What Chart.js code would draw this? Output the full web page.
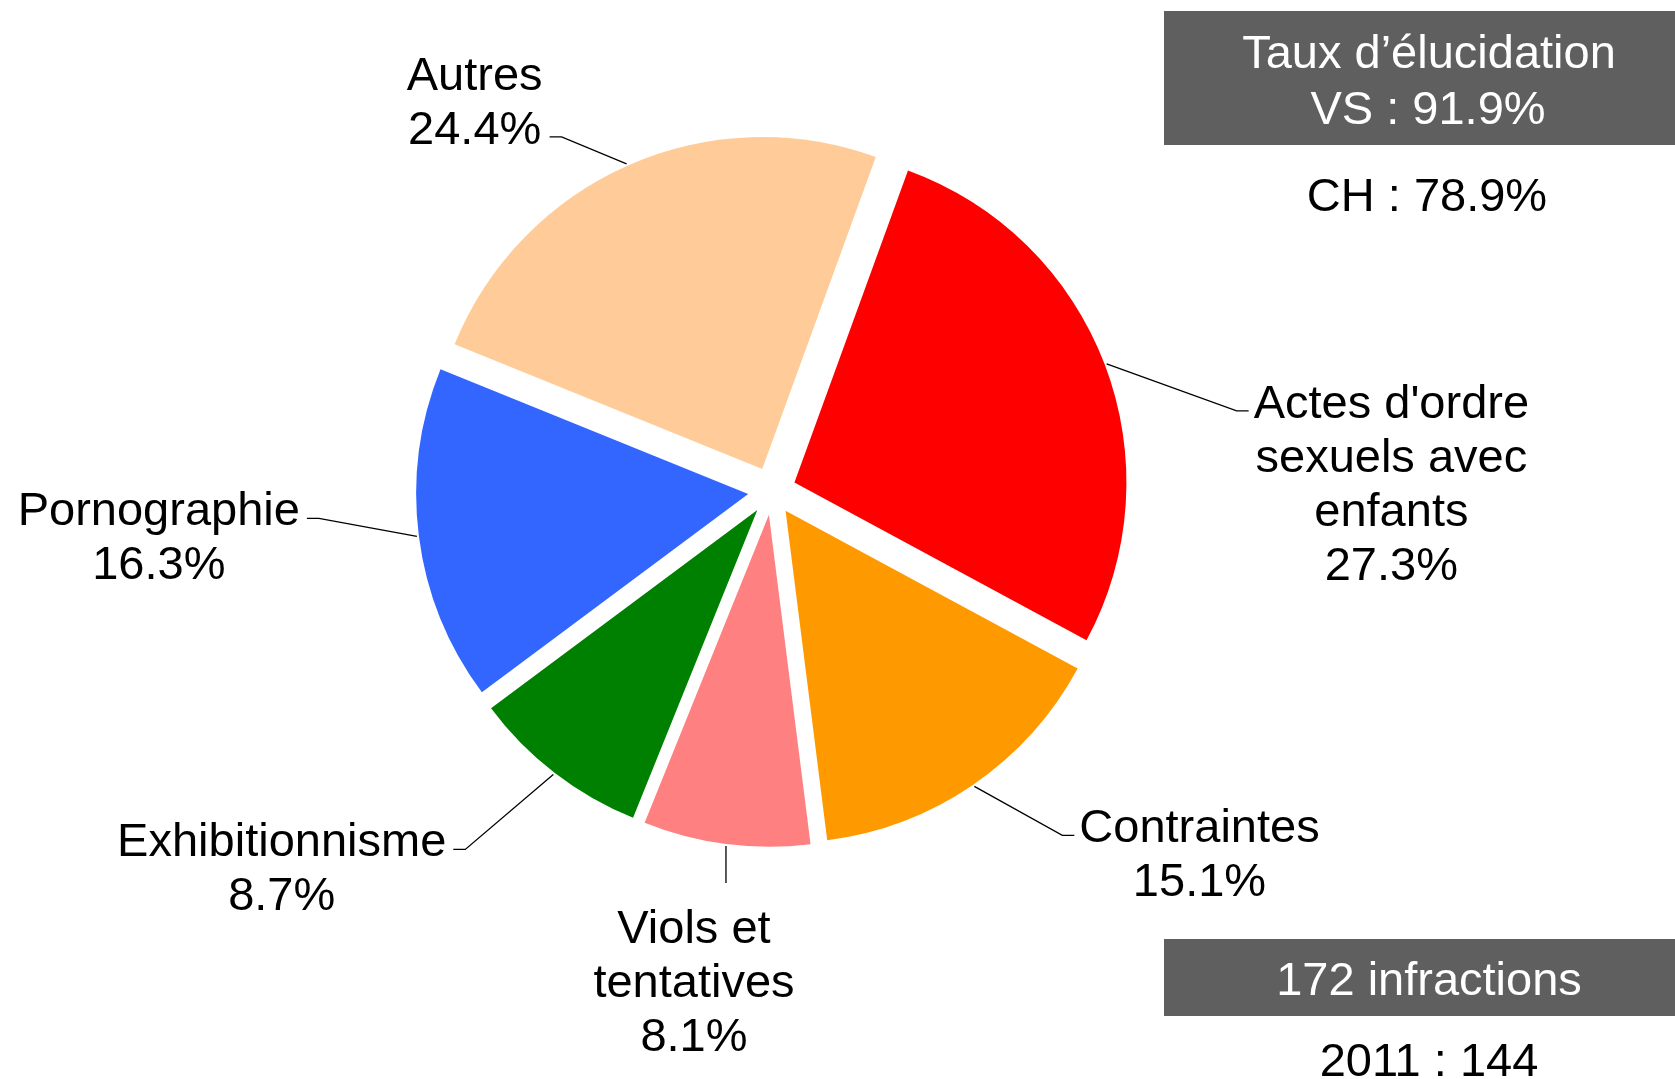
<!DOCTYPE html>
<html>
<head>
<meta charset="utf-8">
<script src="https://cdn.jsdelivr.net/npm/chart.js@4"></script>
<style>
  html, body { margin: 0; padding: 0; background: #fff; }
  #wrap { width: 1675px; height: 1079px; position: relative; }
</style>
</head>
<body>
<div id="wrap"><canvas id="pie-chart"></canvas></div>
<script>
const categories = ["Actes d'ordre\nsexuels avec\nenfants", 'Contraintes', 'Viols et\ntentatives', 'Exhibitionnisme', 'Pornographie', 'Autres'];
const shares = [27.3, 15.1, 8.1, 8.7, 16.3, 24.4];
const sliceColors = ['#ff0000', '#ff9900', '#ff8080', '#008000', '#3366ff', '#ffcc99'];
const clearanceVS = 91.9;
const clearanceCH = 78.9;
const offences = 172;
const prevYear = 2011;
const prevOffences = 144;

const FONT = '47px "Liberation Sans", Arial, sans-serif';
const SHIFT = 24;

// leader lines: elbow relative to the slice edge, tick towards the text, text row on the tick
const leaders = [
    {dx: 130, dy: 47, tick: 12, row: 0},
    {dx: 88, dy: 49, tick: 12, row: 0},
    {dx: 0, dy: 37, tick: 0, row: 0},
    {dx: -88, dy: 75, tick: -12, row: 0},
    {dx: -98, dy: -18, tick: -12, row: 0},
    {dx: -65, dy: -27, tick: -12, row: 1}
];

// pull every slice out from the centre
const explode = {
    id: 'explode',
    beforeDatasetsDraw(chart) {
        chart.getDatasetMeta(0).data.forEach(arc => {
            if (arc._exploded) return;
            const draw = arc.draw.bind(arc);
            arc.draw = (ctx, area) => {
                const mid = (arc.startAngle + arc.endAngle) / 2;
                ctx.save();
                ctx.translate(Math.cos(mid) * SHIFT, Math.sin(mid) * SHIFT);
                draw(ctx, area);
                ctx.restore();
            };
            arc._exploded = true;
        });
    }
};

const sliceLabels = {
    id: 'sliceLabels',
    afterDatasetsDraw(chart) {
        const ctx = chart.ctx;
        ctx.save();
        ctx.font = FONT;
        ctx.fillStyle = '#000';
        ctx.strokeStyle = '#000';
        ctx.lineWidth = 1.3;
        chart.getDatasetMeta(0).data.forEach((arc, i) => {
            const mid = (arc.startAngle + arc.endAngle) / 2;
            const r = arc.outerRadius + SHIFT + 2;
            const sx = arc.x + Math.cos(mid) * r;
            const sy = arc.y + Math.sin(mid) * r;
            const l = leaders[i];
            const ex = sx + l.dx, ey = sy + l.dy;
            const tx = ex + l.tick;
            ctx.beginPath();
            ctx.moveTo(sx, sy);
            ctx.lineTo(ex, ey);
            ctx.lineTo(tx, ey);
            ctx.stroke();

            const lines = categories[i].split('\n').concat(shares[i].toFixed(1) + '%');
            const w = Math.max(...lines.map(s => ctx.measureText(s).width));
            let cx, y0;
            if (l.tick > 0) { cx = tx + 5 + w / 2; y0 = ey + 7; }
            else if (l.tick < 0) { cx = tx - 7 - w / 2; y0 = ey + 7; }
            else { cx = ex - 32; y0 = ey + 60; }
            ctx.textAlign = 'center';
            ctx.textBaseline = 'alphabetic';
            lines.forEach((s, k) => ctx.fillText(s, cx, y0 + (k - l.row) * 54));
        });
        ctx.restore();
    }
};

const infoBoxes = {
    id: 'infoBoxes',
    afterDraw(chart) {
        const ctx = chart.ctx;
        ctx.save();
        ctx.font = FONT;
        ctx.textAlign = 'center';
        ctx.fillStyle = '#5f5f5f';
        ctx.fillRect(1164, 11, 511, 134);
        ctx.fillRect(1164, 939, 511, 77);
        ctx.fillStyle = '#fff';
        ctx.fillText('Taux d\u2019élucidation', 1429, 68);
        ctx.fillText('VS : ' + clearanceVS.toFixed(1) + '%', 1428, 124);
        ctx.fillText(offences + ' infractions', 1429, 995);
        ctx.fillStyle = '#000';
        ctx.fillText('CH : ' + clearanceCH.toFixed(1) + '%', 1427, 211);
        ctx.fillText(prevYear + ' : ' + prevOffences, 1429, 1076);
        ctx.restore();
    }
};

new Chart(document.getElementById('pie-chart'), {
    type: 'pie',
    data: {
        labels: categories.map(c => c.replace(/\n/g, ' ')),
        datasets: [{
            data: shares,
            backgroundColor: sliceColors,
            borderWidth: 0
        }]
    },
    options: {
        responsive: true,
        maintainAspectRatio: false,
        animation: false,
        rotation: 20,
        radius: 332,
        layout: {padding: {left: 0, right: 131, top: 0, bottom: 97}},
        plugins: {
            legend: {display: false},
            tooltip: {enabled: false}
        }
    },
    plugins: [explode, sliceLabels, infoBoxes]
});
</script>
</body>
</html>
